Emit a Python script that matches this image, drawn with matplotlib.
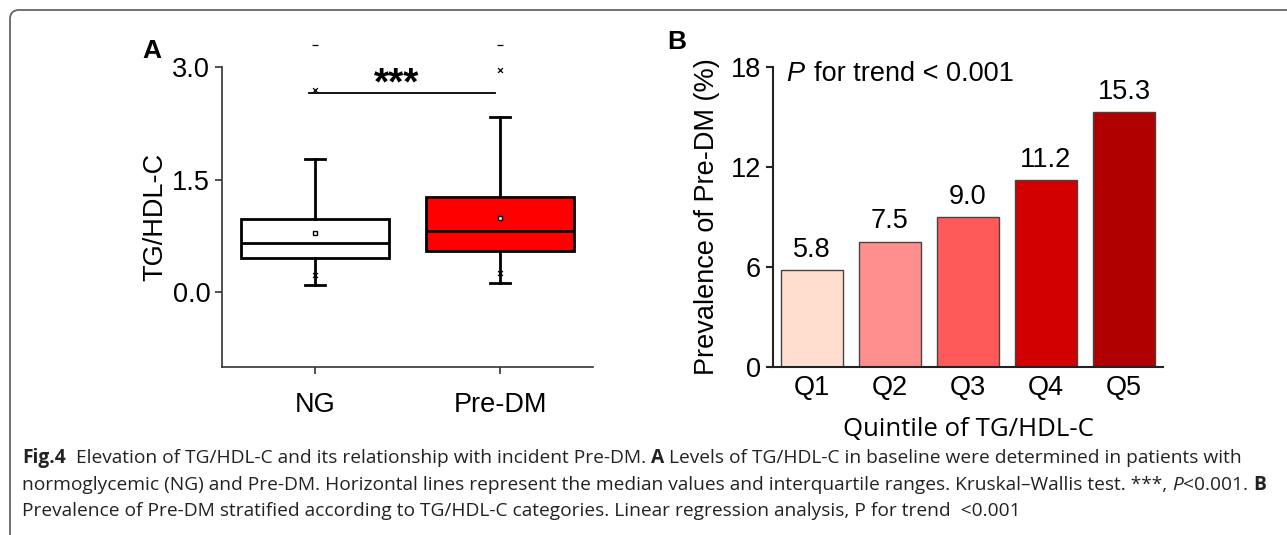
import matplotlib.pyplot as plt
from matplotlib.patches import FancyBboxPatch
from matplotlib.transforms import IdentityTransform

# panel A: box plot summary values
groups = ['NG', 'Pre-DM']
whisker_low = [0.10, 0.12]
q1 = [0.455, 0.55]
median = [0.66, 0.82]
q3 = [0.98, 1.27]
whisker_high = [1.77, 2.34]
means = [0.79, 0.99]
pct_low = [0.23, 0.25]
pct_high = [2.70, 2.96]
maxima = [3.29, 3.29]
box_colors = ['white', '#ff0000']

# panel B: prevalence by quintile
quintiles = ['Q1', 'Q2', 'Q3', 'Q4', 'Q5']
prevalence = [5.8, 7.5, 9.0, 11.2, 15.3]
bar_colors = ['#ffded0', '#ff8f8f', '#ff5a5a', '#d20000', '#b00000']

caption = [
    [("Fig.4", 'bold'), ("  Elevation of TG/HDL-C and its relationship with incident Pre-DM. ", 'normal'),
     ("A", 'bold'), (" Levels of TG/HDL-C in baseline were determined in patients with", 'normal')],
    [("normoglycemic (NG) and Pre-DM. Horizontal lines represent the median values and interquartile ranges. "
      "Kruskal\u2013Wallis test. ***, ", 'normal'), ("P", 'italic'), ("<0.001. ", 'normal'), ("B", 'bold')],
    [("Prevalence of Pre-DM stratified according to TG/HDL-C categories. Linear regression analysis, "
      "P for trend  <0.001", 'normal')],
]

plt.rcParams['font.family'] = ['Liberation Sans', 'DejaVu Sans']

W, H = 1287, 535
fig = plt.figure(figsize=(W / 100, H / 100), dpi=100)
FS = 19.5


def px_axes(left, top, right, bottom):
    return fig.add_axes([left / W, 1 - bottom / H, (right - left) / W, (bottom - top) / H])


# ---- panel A ----
axA = px_axes(222, 67, 593, 367)
pos = [1, 2]
stats = []
for i, g in enumerate(groups):
    stats.append(dict(label=g, whislo=whisker_low[i], q1=q1[i], med=median[i], q3=q3[i],
                      whishi=whisker_high[i], mean=means[i], fliers=[]))
bp = axA.bxp(stats, positions=pos, widths=0.8, patch_artist=True, showmeans=True,
             capwidths=0.11,
             boxprops=dict(linewidth=2, edgecolor='black'),
             medianprops=dict(color='black', linewidth=2),
             whiskerprops=dict(color='black', linewidth=2),
             capprops=dict(color='black', linewidth=2),
             meanprops=dict(marker='s', markerfacecolor='white', markeredgecolor='black',
                            markersize=3.5, markeredgewidth=1))
for patch, c in zip(bp['boxes'], box_colors):
    patch.set_facecolor(c)

axA.scatter(pos, pct_low, marker='x', s=12, color='black', linewidths=0.9, zorder=4)
axA.scatter(pos, pct_high, marker='x', s=12, color='black', linewidths=0.9, zorder=4, clip_on=False)
axA.scatter(pos, maxima, marker='_', s=18, color='black', linewidths=0.9, zorder=4, clip_on=False)

axA.plot([0.97, 1.97], [2.65, 2.65], color='black', lw=1.3, clip_on=False)
axA.text(1.44, 2.64, '***', ha='center', va='baseline', fontsize=28, fontweight='bold')

axA.set_xlim(0.5, 2.5)
axA.set_ylim(-1.0, 3.0)
axA.set_yticks([0.0, 1.5, 3.0])
axA.set_yticklabels(['0.0', '1.5', '3.0'])
axA.set_xticks(pos)
axA.set_xticklabels(groups)
axA.tick_params(labelsize=FS, width=1.2, length=5, color='#333333')
axA.tick_params(axis='x', pad=13)
for s in ['top', 'right']:
    axA.spines[s].set_visible(False)
for s in ['left', 'bottom']:
    axA.spines[s].set_linewidth(1.2)
    axA.spines[s].set_color('#333333')
axA.set_ylabel('TG/HDL-C', fontsize=FS, labelpad=3)
fig.text(152 / W, 1 - 51 / H, 'A', fontsize=19, fontweight='bold', ha='center', va='center')

# ---- panel B ----
axB = px_axes(773, 67, 1163, 367)
x = range(len(quintiles))
bars = axB.bar(x, prevalence, width=0.8, color=bar_colors, edgecolor='#444444', linewidth=1)
for xi, v in zip(x, prevalence):
    axB.text(xi, v + 0.45, f'{v:.1f}', ha='center', va='bottom', fontsize=FS)
axB.text(0.03, 17.6, 'for trend < 0.001', fontsize=FS, va='center', ha='left')
axB.text(0.0, 17.6, 'P ', fontsize=FS, va='center', ha='right', style='italic')
axB.set_xlim(-0.5, 4.5)
axB.set_ylim(0, 18)
axB.set_yticks([0, 6, 12, 18])
axB.set_xticks(list(x))
axB.set_xticklabels(quintiles)
axB.tick_params(labelsize=FS, width=1.5, length=5, color='#222222')
axB.tick_params(axis='x', length=0, pad=6)
for s in ['top', 'right']:
    axB.spines[s].set_visible(False)
for s in ['left', 'bottom']:
    axB.spines[s].set_linewidth(1.5)
    axB.spines[s].set_color('#222222')
axB.set_ylabel('Prevalence of Pre-DM (%)', fontsize=FS, labelpad=7.5)
axB.set_xlabel('Quintile of TG/HDL-C', fontsize=18.5, family=['Open Sans', 'DejaVu Sans'], labelpad=11)
fig.text(677 / W, 1 - 42 / H, 'B', fontsize=19, fontweight='bold', ha='center', va='center')

# ---- frame and caption ----
frame = FancyBboxPatch((10, -20), 1320, 545, boxstyle='round,pad=0,rounding_size=9',
                       transform=IdentityTransform(), facecolor='none', edgecolor='#666666',
                       linewidth=1.3)
fig.patches.append(frame)

renderer = fig.canvas.get_renderer()
cap_family = ['Open Sans', 'DejaVu Sans']


def draw_caption(size):
    made = []
    widths = []
    for li, runs in enumerate(caption):
        xpos = 22
        ypix = 463 + li * 26.5
        for txt, kind in runs:
            kw = dict(fontsize=size, family=cap_family, va='baseline', ha='left', color='#222222')
            if kind == 'bold':
                kw['fontweight'] = 'bold'
            if kind == 'italic':
                kw['style'] = 'italic'
            t = fig.text(xpos / W, 1 - ypix / H, txt, **kw)
            xpos += t.get_window_extent(renderer).width
            made.append(t)
        widths.append(xpos - 22)
    return made, widths


made, widths = draw_caption(12)
scale = 1214 / widths[0]
for t in made:
    t.remove()
draw_caption(12 * scale)

fig.savefig('out.png', dpi=100)
